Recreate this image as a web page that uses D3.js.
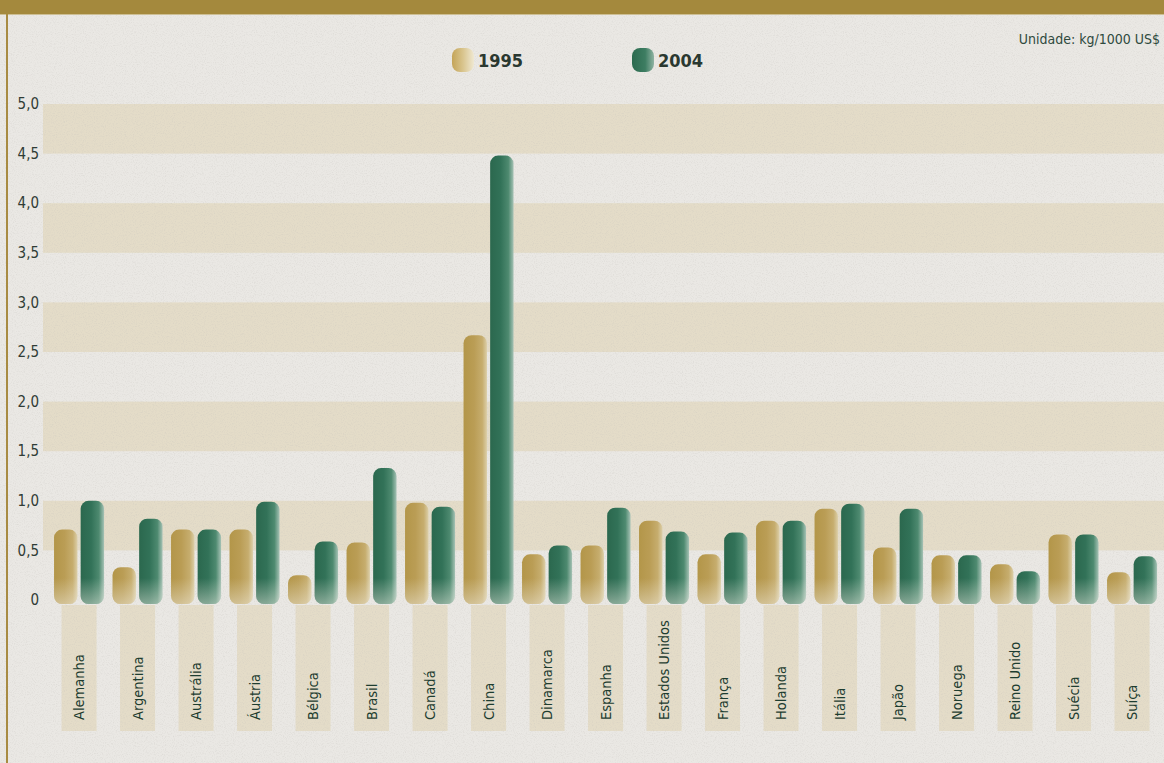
<!DOCTYPE html>
<html><head><meta charset="utf-8">
<script src="https://cdn.jsdelivr.net/npm/d3@7"></script>
<style>
html,body{margin:0;padding:0;background:#e8e6e1;}
svg{display:block;}
text{font-family:"DejaVu Sans Condensed","DejaVu Sans","Liberation Sans Narrow",sans-serif;}
</style></head>
<body>
<svg id="chart" width="1164" height="763"></svg>
<script>
const countries = ["Alemanha","Argentina","Austrália","Áustria","Bélgica","Brasil","Canadá","China","Dinamarca","Espanha","Estados Unidos","França","Holanda","Itália","Japão","Noruega","Reino Unido","Suécia","Suíça"];
const values1995 = [0.71,0.33,0.71,0.71,0.25,0.58,0.98,2.67,0.46,0.55,0.80,0.46,0.80,0.92,0.53,0.45,0.36,0.66,0.28];
const values2004 = [1.00,0.82,0.71,0.99,0.59,1.33,0.94,4.48,0.55,0.93,0.69,0.68,0.80,0.97,0.92,0.45,0.29,0.66,0.44];
const seriesNames = ["1995","2004"];
const yTicks = [0,0.5,1.0,1.5,2.0,2.5,3.0,3.5,4.0,4.5,5.0];
const unitLabel = "Unidade: kg/1000 US$";

const W = 1164, H = 763;
const svg = d3.select("#chart");
const defs = svg.append("defs");

// paper texture
const f = defs.append("filter").attr("id","paper").attr("x",0).attr("y",0).attr("width","100%").attr("height","100%");
f.append("feTurbulence").attr("type","fractalNoise").attr("baseFrequency","0.9").attr("numOctaves",2).attr("seed",3).attr("result","n");
f.append("feColorMatrix").attr("type","matrix").attr("values","0 0 0 0 0.55  0 0 0 0 0.53  0 0 0 0 0.5  0 0 0 -1.4 0.75");

// gradients
function grad(id, stops){
  const g = defs.append("linearGradient").attr("id",id).attr("x1","0").attr("x2","1").attr("y1","0").attr("y2","0");
  stops.forEach(s=>g.append("stop").attr("offset",s[0]).attr("stop-color",s[1]));
}
grad("g1995",[[0,"#b39649"],[0.45,"#ba9d55"],[0.8,"#c6ad6e"],[1,"#dccfa9"]]);
grad("g2004",[[0,"#2b684e"],[0.45,"#327258"],[0.78,"#4e8a70"],[1,"#a6c2b5"]]);
grad("l1995",[[0,"#c4a458"],[0.5,"#d9c58e"],[1,"#efe8d2"]]);
grad("l2004",[[0,"#2b6a4e"],[0.6,"#3d7d62"],[1,"#8fb3a2"]]);

const y = d3.scaleLinear().domain([0,5]).range([600,104]);
const x = d3.scaleBand().domain(countries).range([49.8,1161.3]).paddingInner(0.145).paddingOuter(0.0725);
const xs = d3.scaleBand().domain(seriesNames).range([0,x.bandwidth()]).paddingInner(0.12);

// bottom fade for bars
const fade = defs.append("linearGradient").attr("id","fade").attr("gradientUnits","userSpaceOnUse")
  .attr("x1",0).attr("x2",0).attr("y1",y(0)-22).attr("y2",y(0)+4);
fade.append("stop").attr("offset",0).attr("stop-color","#f2efe6").attr("stop-opacity",0);
fade.append("stop").attr("offset",1).attr("stop-color","#f2efe6").attr("stop-opacity",0.45);

// background
svg.append("rect").attr("width",W).attr("height",H).attr("fill","#eae8e4");

// horizontal bands
const bandStarts = yTicks.filter((t,i)=> i%2===1);
svg.append("g").selectAll("rect").data(bandStarts).join("rect")
  .attr("x",43).attr("width",W-43)
  .attr("y",d=>y(d+0.5)).attr("height",d=>y(d)-y(d+0.5))
  .attr("fill","#e4dcc8");

// label background rects
svg.append("g").selectAll("rect").data(countries).join("rect")
  .attr("x",d=>x(d)+x.bandwidth()/2-17.5).attr("width",35)
  .attr("y",y(0)+5).attr("height",126)
  .attr("fill","#e4dcc8");

// texture overlay
svg.append("rect").attr("width",W).attr("height",H).attr("filter","url(#paper)").attr("opacity",0.5);

// header band
svg.append("rect").attr("x",0).attr("y",0).attr("width",W).attr("height",14).attr("fill","#a4893d");
svg.append("line").attr("x1",0).attr("x2",W).attr("y1",14.5).attr("y2",14.5).attr("stroke","#cdbf95").attr("stroke-width",1);
// left border
svg.append("line").attr("x1",7).attr("x2",7).attr("y1",14).attr("y2",H).attr("stroke","#a88b42").attr("stroke-width",2);

// y tick labels
const fmt = d => d===0 ? "0" : d3.format(".1f")(d).replace(".",",");
svg.append("g").selectAll("text").data(yTicks).join("text")
  .attr("x",39).attr("y",d=>y(d)).attr("dy","0.35em")
  .attr("text-anchor","end").attr("font-size",15).attr("fill","#303c36")
  .text(fmt);

// bars
const data = countries.map((c,i)=>({c, vals:[{s:"1995",v:values1995[i]},{s:"2004",v:values2004[i]}]}));
const groups = svg.append("g").selectAll("g").data(data).join("g")
  .attr("transform",d=>`translate(${x(d.c)},0)`);
groups.selectAll("rect.bar").data(d=>d.vals).join("rect").attr("class","bar")
  .attr("x",d=>xs(d.s)).attr("width",xs.bandwidth())
  .attr("y",d=>y(d.v)).attr("height",d=>y(0)-y(d.v)+4)
  .attr("rx",8).attr("ry",8)
  .attr("fill",d=>`url(#g${d.s})`);
groups.selectAll("rect.fade").data(d=>d.vals).join("rect").attr("class","fade")
  .attr("x",d=>xs(d.s)).attr("width",xs.bandwidth())
  .attr("y",d=>y(d.v)).attr("height",d=>y(0)-y(d.v)+4)
  .attr("rx",8).attr("ry",8)
  .attr("fill","url(#fade)");

// x labels
svg.append("g").selectAll("text").data(countries).join("text")
  .attr("transform",d=>`translate(${x(d)+x.bandwidth()/2},720) rotate(-90)`)
  .attr("dy","0.35em").attr("text-anchor","start")
  .attr("font-size",14.5).attr("fill","#1d3d30")
  .text(d=>d);

// legend
const legendX = [452, 632];
const lg = svg.append("g").selectAll("g").data(seriesNames).join("g")
  .attr("transform",(d,i)=>`translate(${legendX[i]},48)`);
lg.append("rect").attr("width",22).attr("height",24).attr("rx",8).attr("ry",8)
  .attr("fill",d=>`url(#l${d})`);
lg.append("text").attr("x",26).attr("y",19).attr("font-size",18).attr("font-weight","bold")
  .attr("fill","#2a3830").text(d=>d);

// unit label
svg.append("text").attr("x",1160).attr("y",44).attr("text-anchor","end")
  .attr("font-size",14).attr("fill","#2f4a3e").text(unitLabel);
</script>
</body></html>
